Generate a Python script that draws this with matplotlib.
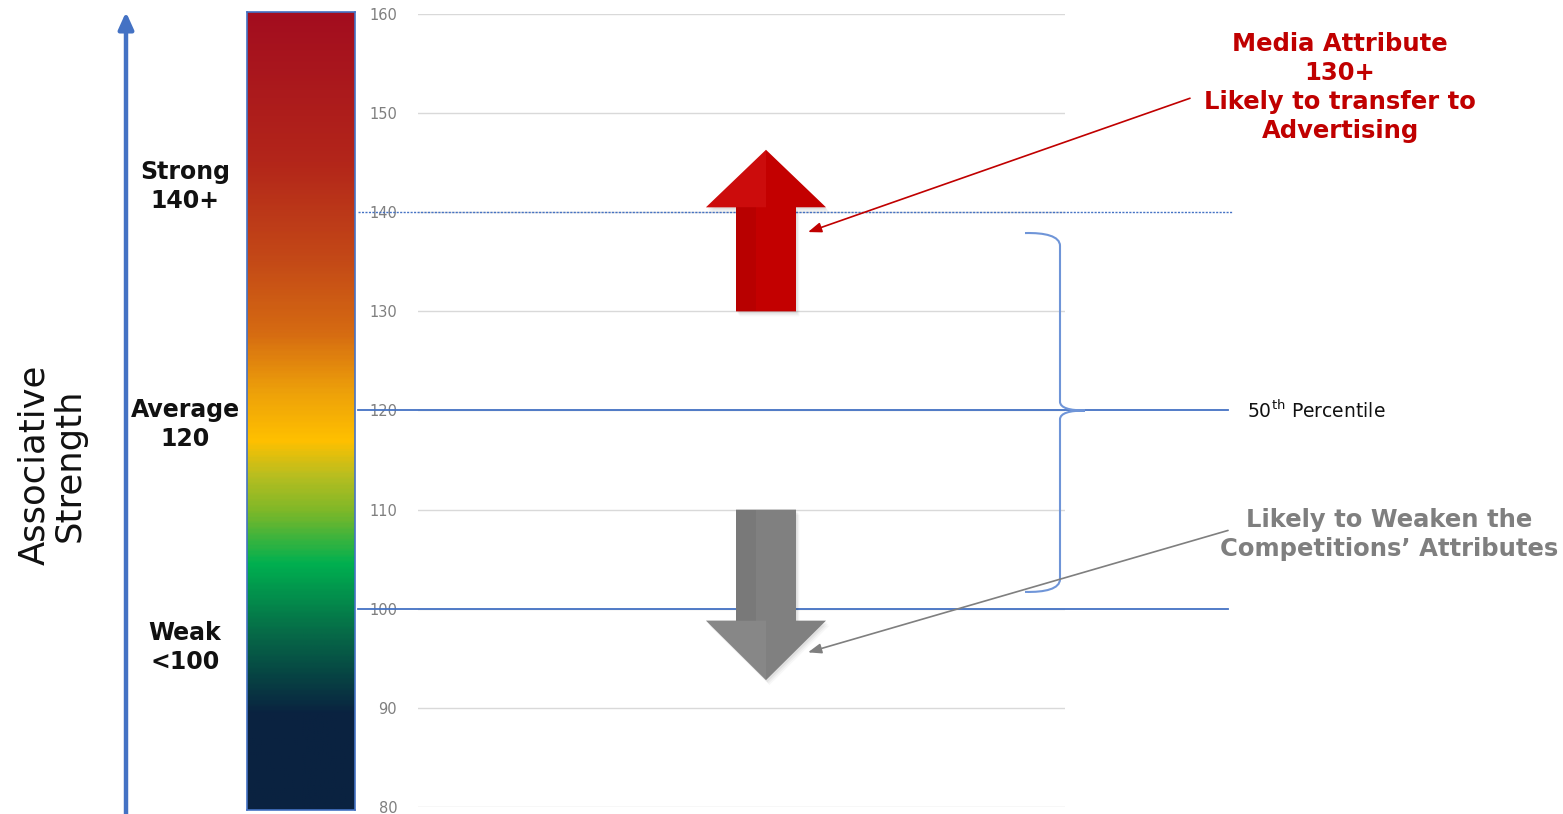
import matplotlib
matplotlib.use("Agg")
import matplotlib.pyplot as plt
import numpy as np
from matplotlib.colors import LinearSegmentedColormap
from matplotlib.patches import Polygon, PathPatch
from matplotlib.path import Path

# ---------------- data ----------------
y_ticks = [80, 90, 100, 110, 120, 130, 140, 150, 160]
y_min, y_max = 80, 160
strong_threshold = 140
average_level = 120
weak_threshold = 100
media_attr_start, media_attr_end = 130, 146.3      # red up arrow
weaken_start, weaken_end = 110, 92.8               # grey down arrow
brace_top, brace_bottom = 137.9, 101.7

scale_labels = ["Strong\n140+", "Average\n120", "Weak\n<100"]
scale_label_y = [142.6, 118.6, 96.1]

grad_vals = [80, 89.5, 94, 98, 104.6, 110, 113.5, 117, 122, 128, 135, 145, 160]
grad_cols = ["#0A2240", "#0A2240", "#064A44", "#066E48", "#00B050", "#80B828",
             "#B8BE20", "#FFC000", "#EDA00A", "#D56A12", "#C44A17", "#B3261A", "#A30D1F"]

# ---------------- figure ----------------
W, H = 1563, 814
fig = plt.figure(figsize=(W / 100, H / 100), dpi=100)
fig.patch.set_facecolor("white")

ax_l, ax_r, ax_b, ax_t = 418, 1065, 807, 14
ax = fig.add_axes([ax_l / W, 1 - ax_b / H, (ax_r - ax_l) / W, (ax_b - ax_t) / H])
ax.set_xlim(ax_l, ax_r)
ax.set_ylim(y_min, y_max)
for s in ax.spines.values():
    s.set_visible(False)
ax.set_xticks([])
ax.set_yticks(y_ticks)
ax.set_yticklabels([str(t) for t in y_ticks])
ax.tick_params(axis="y", length=0, pad=15, labelsize=10.5, labelcolor="#7F7F7F")
for t in y_ticks:
    ax.axhline(t, color="#D9D9D9", lw=1.0, zorder=1)

blue = "#4472C4"
# reference lines (extend beyond axes)
ax.plot([358, 1233], [strong_threshold] * 2, color=blue, lw=1.0, ls=(0, (1.5, 1)), clip_on=False, zorder=3)
ax.plot([358, 1228], [average_level] * 2, color=blue, lw=1.3, clip_on=False, zorder=3)
ax.plot([358, 1228], [weak_threshold] * 2, color=blue, lw=1.3, clip_on=False, zorder=3)

# gradient bar
bar_ax = fig.add_axes([247 / W, 1 - 810 / H, 108 / W, (810 - 12) / H])
cmap = LinearSegmentedColormap.from_list(
    "strength", list(zip([(v - y_min) / (y_max - y_min) for v in grad_vals], grad_cols)))
grad = np.linspace(0, 1, 400).reshape(-1, 1)
bar_ax.imshow(grad, cmap=cmap, aspect="auto", origin="lower", extent=[0, 1, y_min, y_max])
bar_ax.set_xlim(0, 1)
bar_ax.set_ylim(y_min, y_max)
bar_ax.set_xticks([])
bar_ax.set_yticks([])
for s in bar_ax.spines.values():
    s.set_color(blue)
    s.set_linewidth(1.2)

# scale labels
for lab, yv in zip(scale_labels, scale_label_y):
    ax.text(185, yv, lab, ha="center", va="center", fontsize=17, fontweight="bold",
            color="#111111", linespacing=1.25, clip_on=False)

# Associative Strength + blue arrow (figure pixels)
fig.text(52 / W, 1 - 465 / H, "Associative\nStrength", rotation=90, ha="center", va="center",
         fontsize=25.5, color="#111111", linespacing=1.05)
ax.annotate("", xy=(126, 1 - 12 / H), xytext=(126, 0),
            xycoords=("figure pixels", "figure fraction"), textcoords=("figure pixels", "figure fraction"),
            arrowprops=dict(arrowstyle="-|>,head_length=1.0,head_width=0.45", color=blue, lw=3.2,
                            shrinkA=0, shrinkB=0))

# block arrows
arrow_x = 766
shaft_hw, head_hw = 30, 60


def block_arrow(start, end, head_base, face, dark, light):
    pts = [(arrow_x - shaft_hw, start), (arrow_x - shaft_hw, head_base),
           (arrow_x - head_hw, head_base), (arrow_x, end),
           (arrow_x + head_hw, head_base), (arrow_x + shaft_hw, head_base),
           (arrow_x + shaft_hw, start)]
    # soft shadow
    for k, a in enumerate([0.05, 0.04, 0.03]):
        sh = [(x + 1.5 + k, y - 0.2 - 0.15 * k) for x, y in pts]
        ax.add_patch(Polygon(sh, closed=True, facecolor="black", edgecolor="none", alpha=a, zorder=4))
    ax.add_patch(Polygon(pts, closed=True, facecolor=face, edgecolor="none", zorder=5))
    # subtle bevel: left shaft slightly darker
    ax.add_patch(Polygon([(arrow_x - shaft_hw, start), (arrow_x - shaft_hw, head_base),
                          (arrow_x - 10, head_base), (arrow_x - 10, start)],
                         closed=True, facecolor=dark, edgecolor="none", alpha=0.25, zorder=6))
    # subtle bevel: head highlight
    ax.add_patch(Polygon([(arrow_x - head_hw, head_base), (arrow_x, end), (arrow_x, head_base)],
                         closed=True, facecolor=light, edgecolor="none", alpha=0.25, zorder=6))


block_arrow(media_attr_start, media_attr_end, 140.5, "#C30000", "#9A0000", "#E83030")
block_arrow(weaken_start, weaken_end, 98.8, "#808080", "#666666", "#9C9C9C")

# brace
bx0, bx1, btip = 1025, 1060, 1085
verts = [(bx0, brace_top), (1045, brace_top + 0.05), (bx1, brace_top - 0.3), (bx1, brace_top - 1.3),
         (bx1, average_level + 0.9),
         (bx1, average_level + 0.25), (1070, average_level), (btip, average_level),
         (1070, average_level), (bx1, average_level - 0.25), (bx1, average_level - 0.9),
         (bx1, brace_bottom + 1.3),
         (bx1, brace_bottom + 0.3), (1045, brace_bottom - 0.05), (bx0, brace_bottom)]
codes = [Path.MOVETO, Path.CURVE4, Path.CURVE4, Path.CURVE4, Path.LINETO,
         Path.CURVE4, Path.CURVE4, Path.CURVE4, Path.CURVE4, Path.CURVE4, Path.CURVE4,
         Path.LINETO, Path.CURVE4, Path.CURVE4, Path.CURVE4]
ax.add_patch(PathPatch(Path(verts, codes), facecolor="none", edgecolor="#6F95D8", lw=1.5,
                       clip_on=False, zorder=3))

# 50th percentile label
ax.text(1247, average_level, r"50$^{\rm th}$ Percentile", ha="left", va="center", fontsize=13.5,
        color="#111111", clip_on=False)

# red callout
red = "#C00000"
ax.text(1340, 152.6, "Media Attribute\n130+\nLikely to transfer to\nAdvertising", ha="center", va="center",
        fontsize=17.5, fontweight="bold", color=red, linespacing=1.26, clip_on=False)
ax.annotate("", xy=(808, 138.0), xytext=(1190, 151.5), xycoords="data", textcoords="data",
            annotation_clip=False,
            arrowprops=dict(arrowstyle="-|>,head_length=0.8,head_width=0.3", color=red, lw=1.2,
                            shrinkA=0, shrinkB=0))

# grey callout
grey = "#7F7F7F"
ax.text(1389, 107.5, "Likely to Weaken the\nCompetitions\u2019 Attributes", ha="center", va="center",
        fontsize=17.5, fontweight="bold", color=grey, linespacing=1.26, clip_on=False)
ax.annotate("", xy=(808, 95.6), xytext=(1228, 107.9), xycoords="data", textcoords="data",
            annotation_clip=False,
            arrowprops=dict(arrowstyle="-|>,head_length=0.8,head_width=0.3", color=grey, lw=1.2,
                            shrinkA=0, shrinkB=0))

fig.savefig("out.png", dpi=100, facecolor="white")
